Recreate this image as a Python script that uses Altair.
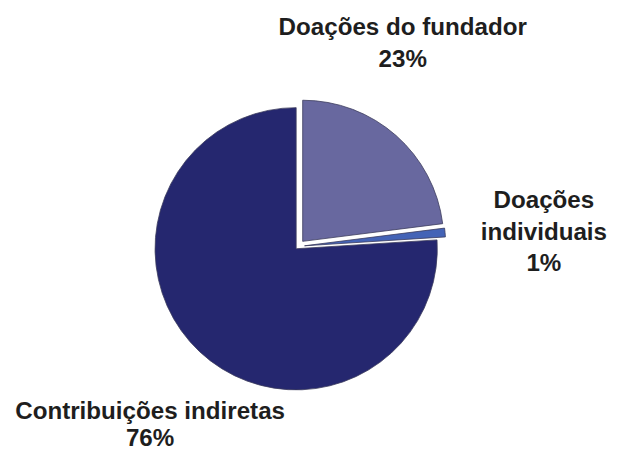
import math
import altair as alt
import pandas as pd

# ---- data ----
categories = ["Doações do fundador", "Doações individuais", "Contribuições indiretas"]
values = [23, 1, 76]
label_lines = [["Doações do fundador", "23%"], ["Doações", "individuais", "1%"], ["Contribuições indiretas", "76%"]]

# ---- styles / layout ----
colors = ["#68689F", "#4463B6", "#25276F"]
W, H = 610, 444
CX, CY, R = 292, 241, 143
explode = [(6.6, -7.5), (8.5, -3.0), (0.0, 0.0)]
label_pos = [(400, 24), (543, 200), (144, 414)]
line_heights = [33, 32, 27]

starts, ends, acc = [], [], 0
for v in values:
    starts.append(acc)
    acc += v
    ends.append(acc)
df = pd.DataFrame({"cat": categories, "value": values, "start": starts, "end": ends})

theta_scale = alt.Scale(domain=[0, sum(values)], range=[0, 2 * math.pi])

layers = []
for i, cat in enumerate(categories):
    dx, dy = explode[i]
    arc = (
        alt.Chart(df)
        .transform_filter(alt.datum.cat == cat)
        .mark_arc(stroke="#3b3b5c", strokeWidth=0.8, color=colors[i])
        .encode(
            theta=alt.Theta("start:Q", scale=theta_scale),
            theta2="end:Q",
            radius=alt.value(R),
            x=alt.value(CX + dx),
            y=alt.value(CY + dy),
        )
    )
    layers.append(arc)

for i, cat in enumerate(categories):
    lx, ly = label_pos[i]
    txt = (
        alt.Chart(pd.DataFrame({"t": ["\n".join(label_lines[i])]}))
        .mark_text(
            font="Liberation Sans",
            fontSize=24.5,
            fontWeight="bold",
            color="#1e1e1e",
            align="center",
            baseline="alphabetic",
            lineBreak="\n",
            lineHeight=line_heights[i],
        )
        .encode(text="t:N", x=alt.value(lx), y=alt.value(ly))
    )
    layers.append(txt)

chart = (
    alt.layer(*layers)
    .properties(
        width=W,
        height=H,
        autosize=alt.AutoSizeParams(type="none"),
        padding=0,
        background="white",
    )
    .configure_view(strokeWidth=0, stroke="transparent")
)

chart.save("out.html", embed_options={"renderer": "svg", "actions": False})
